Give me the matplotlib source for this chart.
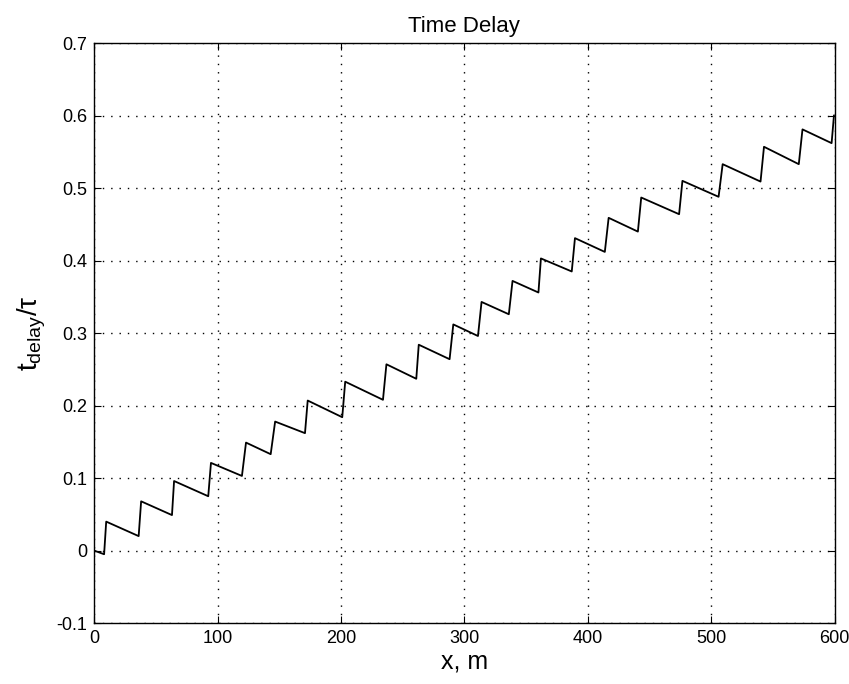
import matplotlib
matplotlib.use("Agg")
import matplotlib.pyplot as plt

# sawtooth vertices (x in m, normalized delay)
x_pts = [0, 8, 9.7, 36, 38, 63, 64.7, 92.4, 94.6, 119.7, 123, 143, 146.6, 170.8,
         173, 201, 203.4, 234, 236.8, 261, 263, 288, 291, 311, 313.9, 336, 339, 360,
         362, 387, 389.6, 413.8, 416.9, 440.6, 443.3, 474, 476.7, 506, 509.3, 540,
         542.8, 571, 574, 597.6, 599.5]
y_pts = [0.0, -0.005, 0.040, 0.020, 0.068, 0.049, 0.096, 0.075, 0.121, 0.103, 0.149,
         0.133, 0.178, 0.162, 0.207, 0.184, 0.233, 0.208, 0.257, 0.237, 0.284, 0.264,
         0.312, 0.296, 0.343, 0.326, 0.372, 0.356, 0.403, 0.385, 0.431, 0.412, 0.459,
         0.440, 0.487, 0.464, 0.510, 0.488, 0.533, 0.509, 0.557, 0.533, 0.581, 0.562,
         0.600]

x_ticks = [0, 100, 200, 300, 400, 500, 600]
y_ticks = [-0.1, 0, 0.1, 0.2, 0.3, 0.4, 0.5, 0.6, 0.7]
y_tick_labels = ["-0.1", "0", "0.1", "0.2", "0.3", "0.4", "0.5", "0.6", "0.7"]

plt.rcParams['font.family'] = ['Liberation Sans', 'DejaVu Sans']
fig = plt.figure(figsize=(8.49, 6.84), dpi=100)
ax = fig.add_axes([0.111, 0.089, 0.872, 0.848])
ax.plot(x_pts, y_pts, color='black', lw=1.3)
ax.set_xlim(0, 600)
ax.set_ylim(-0.1, 0.7)
ax.set_xticks(x_ticks)
ax.set_yticks(y_ticks)
ax.set_yticklabels(y_tick_labels)
ax.grid(True, color='black', linestyle=(0, (1, 5)), lw=1.0)
ax.tick_params(direction='in', top=True, right=True, labelsize=13, length=5, pad=5)
for s in ax.spines.values():
    s.set_linewidth(1.0)
ax.set_title("Time Delay", fontsize=16, pad=8)
ax.set_xlabel("x, m", fontsize=18, labelpad=2)
ax.set_ylabel(r"$\mathregular{t_{delay}/\tau}$", fontsize=20, labelpad=6)
fig.savefig("out.png", dpi=100)
